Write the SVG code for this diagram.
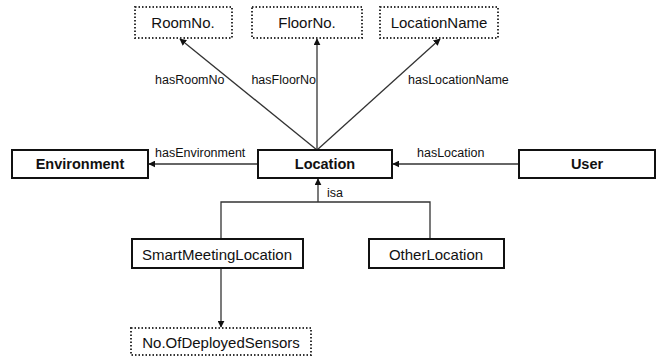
<svg xmlns="http://www.w3.org/2000/svg" width="666" height="360" viewBox="0 0 666 360">
<style>
.solid{fill:#fff;stroke:#111;stroke-width:2}
.dot{fill:#fff;stroke:#333;stroke-width:2;stroke-dasharray:1.5 2}
.t{font-family:"Liberation Sans",Arial,sans-serif;font-size:15px;fill:#111;text-anchor:middle;dominant-baseline:central}
.b{font-weight:bold;font-size:14.5px}
.lbl{font-family:"Liberation Sans",Arial,sans-serif;font-size:12.5px;fill:#111}
.ln{stroke:#333;stroke-width:1.3;fill:none}
</style>
<defs>
<marker id="ah" viewBox="0 0 10 10" refX="9" refY="5" markerWidth="7" markerHeight="7" orient="auto" markerUnits="userSpaceOnUse">
<path d="M0,0 L10,5 L0,10 z" fill="#111"/>
</marker>
</defs>
<rect width="666" height="360" fill="#fff"/>
<g id="connectors">
<line class="ln" x1="317" y1="150" x2="180" y2="39" marker-end="url(#ah)"/>
<line class="ln" x1="317" y1="150" x2="317" y2="39" marker-end="url(#ah)"/>
<line class="ln" x1="317" y1="150" x2="440" y2="39" marker-end="url(#ah)"/>
<line class="ln" x1="258" y1="164" x2="149" y2="164" marker-end="url(#ah)"/>
<line class="ln" x1="519" y1="164" x2="393" y2="164" marker-end="url(#ah)"/>
<polyline class="ln" points="221,239 221,202 430,202 430,239"/>
<line class="ln" x1="318" y1="202" x2="318" y2="179" marker-end="url(#ah)"/>
<line class="ln" x1="221" y1="268" x2="221" y2="327" marker-end="url(#ah)"/>
<text class="lbl" x="155" y="84">hasRoomNo</text>
<text class="lbl" x="316" y="84" text-anchor="end">hasFloorNo</text>
<text class="lbl" x="408" y="84">hasLocationName</text>
<text class="lbl" x="155" y="157">hasEnvironment</text>
<text class="lbl" x="417" y="157">hasLocation</text>
<text class="lbl" x="327" y="197">isa</text>
</g>
<g id="RoomNo"><rect class="dot" x="135" y="7" width="97" height="31"/><text class="t" x="183" y="22">RoomNo.</text></g>
<g id="FloorNo"><rect class="dot" x="252" y="7" width="110" height="31"/><text class="t" x="307" y="22">FloorNo.</text></g>
<g id="LocationName"><rect class="dot" x="380" y="7" width="118" height="31"/><text class="t" x="439" y="22">LocationName</text></g>
<g id="Environment"><rect class="solid" x="12" y="150" width="136" height="28"/><text class="t b" x="80" y="164">Environment</text></g>
<g id="Location"><rect class="solid" x="258" y="150" width="134" height="28"/><text class="t b" x="325" y="164">Location</text></g>
<g id="User"><rect class="solid" x="519" y="150" width="136" height="28"/><text class="t b" x="587" y="164">User</text></g>
<g id="SmartMeetingLocation"><rect class="solid" x="132" y="239" width="171" height="29"/><text class="t" x="217" y="254">SmartMeetingLocation</text></g>
<g id="OtherLocation"><rect class="solid" x="369" y="239" width="135" height="29"/><text class="t" x="436" y="254">OtherLocation</text></g>
<g id="NoOfDeployedSensors"><rect class="dot" x="131" y="328" width="180" height="27"/><text class="t" x="221" y="342">No.OfDeployedSensors</text></g>
</svg>
